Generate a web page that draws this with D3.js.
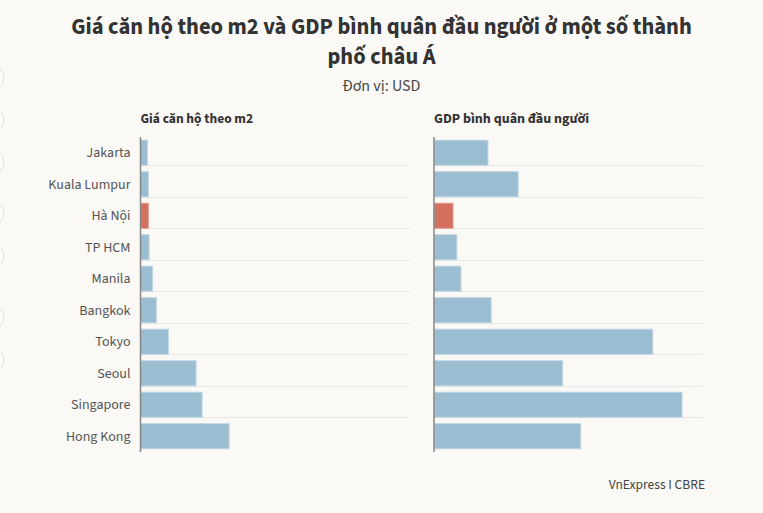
<!DOCTYPE html>
<html><head><meta charset="utf-8">
<script src="https://cdn.jsdelivr.net/npm/d3@7"></script>
<style>
html,body{margin:0;padding:0;background:#faf9f6;}
svg{display:block;}
</style></head>
<body>
<script>
const cities = ["Jakarta","Kuala Lumpur","Hà Nội","TP HCM","Manila","Bangkok","Tokyo","Seoul","Singapore","Hong Kong"];
const pricePerM2 = [2200,2500,2500,2700,3800,5000,8800,17500,19400,27900];
const gdpPerCapita = [17000,26500,6000,7200,8500,18000,68900,40500,78100,46200];
const highlight = "Hà Nội";
const titleLines = ["Giá căn hộ theo m2 và GDP bình quân đầu người ở một số thành","phố châu Á"];
const subtitle = "Đơn vị: USD";
const panelTitles = ["Giá căn hộ theo m2","GDP bình quân đầu người"];
const source = "VnExpress I CBRE";

const W=763,H=513;
const font = "'Source Sans Pro','Source Sans 3',Lato,'Open Sans',sans-serif";
const svg=d3.select("body").append("svg").attr("width",W).attr("height",H);
svg.append("rect").attr("width",W).attr("height",H).attr("fill","#faf9f6");

// decorative share-button circles on left edge
[78,120,162,213,256,317,360].forEach(cy=>{
  svg.append("circle").attr("cx",-9).attr("cy",cy).attr("r",13)
    .attr("fill","none").attr("stroke","#e2e2e2").attr("stroke-width",1);
});

svg.selectAll("text.title").data(titleLines).join("text")
  .attr("class","title")
  .attr("x",W/2).attr("y",(d,i)=>34+i*30).attr("text-anchor","middle")
  .attr("font-family",font).attr("font-weight",700).attr("font-size",22.5)
  .attr("fill","#333").text(d=>d);
svg.append("text").attr("x",W/2).attr("y",91).attr("text-anchor","middle")
  .attr("font-family",font).attr("font-size",16).attr("fill","#444").text(subtitle);

const y=d3.scaleBand().domain(cities).range([137,452]).paddingInner(0.2).paddingOuter(0.1);
const x=d3.scaleLinear().domain([0,85000]).range([0,270]);
const panels=[{x0:140.5,vals:pricePerM2,title:panelTitles[0],size:13.5},{x0:434,vals:gdpPerCapita,title:panelTitles[1],size:14}];
const step=y.step();

panels.forEach((p,pi)=>{
  const g=svg.append("g").attr("transform",`translate(${p.x0},0)`);
  const gx2 = pi===0 ? 270 : 269;
  g.selectAll("line.grid").data(cities.slice(1)).join("line")
    .attr("x1",0).attr("x2",gx2)
    .attr("y1",d=>Math.round(y(d)-step*0.2)+0.5).attr("y2",d=>Math.round(y(d)-step*0.2)+0.5)
    .attr("stroke","#e8e8e6").attr("stroke-width",1);
  g.selectAll("rect.bar").data(cities).join("rect")
    .attr("x",0).attr("y",d=>y(d)).attr("height",y.bandwidth())
    .attr("width",(d,i)=>x(p.vals[i]))
    .attr("fill",d=>d===highlight?"#d3705f":"#9bbdd1")
    .attr("stroke",d=>d===highlight?"#e8a398":"#c3d8e4").attr("stroke-width",1);
  g.append("line").attr("x1",0).attr("x2",0).attr("y1",137).attr("y2",452)
    .attr("stroke","#888").attr("stroke-width",1.5);
  g.append("text").attr("x",0).attr("y",123).attr("font-family",font)
    .attr("font-weight",700).attr("font-size",p.size).attr("fill","#333").text(p.title);
});

const axis=d3.axisLeft(y).tickSize(0).tickPadding(10);
const ag=svg.append("g").attr("transform","translate(140.5,0)").call(axis);
ag.select(".domain").remove();
ag.selectAll("text").attr("font-family",font).attr("font-size",14).attr("fill","#555");

svg.append("text").attr("x",705).attr("y",489).attr("text-anchor","end")
  .attr("font-family",font).attr("font-size",13.5).attr("fill","#444").text(source);
</script>
</body></html>
